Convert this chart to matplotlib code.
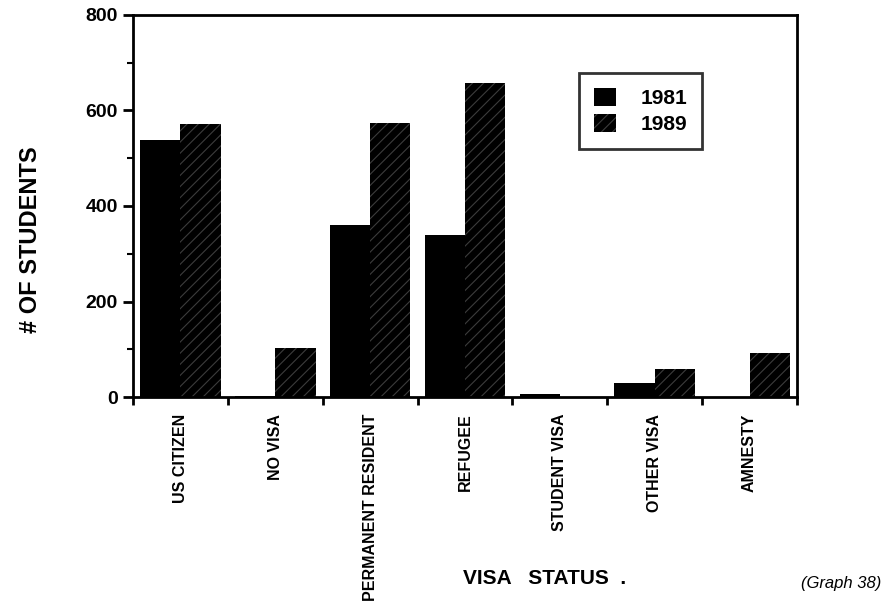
""" Visa status bar chart, 1981 vs 1989 """

import numpy as np
import matplotlib
matplotlib.use("Agg")
import matplotlib.pyplot as plt
from matplotlib.ticker import MultipleLocator, FixedLocator

# Data
categories = ["US CITIZEN", "NO VISA", "PERMANENT RESIDENT", "REFUGEE",
              "STUDENT VISA", "OTHER VISA", "AMNESTY"]
students_1981 = [538, 3, 361, 340, 6, 29, 0]
students_1989 = [571, 102, 573, 657, 0, 59, 92]
years = ["1981", "1989"]

plt.rcParams['font.family'] = ['Liberation Sans', 'DejaVu Sans']
plt.rcParams['hatch.linewidth'] = 0.8

fig = plt.figure(figsize=(8.83, 6.14), dpi=100)
ax = fig.add_axes([0.1506, 0.3534, 0.752, 0.6222])

x = np.arange(len(categories))
w = 0.425
ax.bar(x - w/2, students_1981, w, color='black', lw=0, label=years[0])
ax.bar(x + w/2, students_1989, w, color='black', lw=0, hatch='///',
       edgecolor='#3c3c3c', label=years[1])

ax.set_xlim(-0.5, len(categories) - 0.5)
ax.set_ylim(0, 800)

# y axis
ax.yaxis.set_major_locator(MultipleLocator(200))
ax.yaxis.set_minor_locator(MultipleLocator(100))
ax.tick_params(axis='y', which='major', length=7, width=2, labelsize=14, pad=4)
ax.tick_params(axis='y', which='minor', length=4, width=1.5)
for lab in ax.get_yticklabels():
    lab.set_fontweight('bold')

# x axis: ticks at category boundaries, labels at centres
ax.xaxis.set_major_locator(FixedLocator(np.arange(-0.5, len(categories), 1.0)))
ax.tick_params(axis='x', which='major', length=6, width=2, labelbottom=False)
ax.tick_params(axis='x', which='minor', length=0, pad=12)
ax.set_xticks(x, minor=True)
ax.set_xticklabels(categories, minor=True, rotation=90, va='top', ha='center',
                   fontsize=11.5, fontweight='bold')

for s in ax.spines.values():
    s.set_linewidth(2)

fig.text(0.034, 1 - 240/614, "# OF STUDENTS", fontsize=17, fontweight='bold',
         rotation=90, ha='center', va='center')

leg = ax.legend(loc='upper left', bbox_to_anchor=(0.672, 0.848), frameon=True,
                fancybox=False, edgecolor='black', handlelength=1.05,
                handleheight=0.95, handletextpad=1.2, borderpad=0.7,
                labelspacing=0.3, borderaxespad=0,
                prop={'weight': 'bold', 'size': 15})
leg.get_frame().set_linewidth(2)

fig.text(0.617, 0.058, "VISA   STATUS  .", fontsize=15, fontweight='bold',
         ha='center', va='center')
fig.text(0.998, 0.05, "(Graph 38)", fontsize=12, style='italic',
         ha='right', va='center')

fig.savefig("out.png", dpi=100)
